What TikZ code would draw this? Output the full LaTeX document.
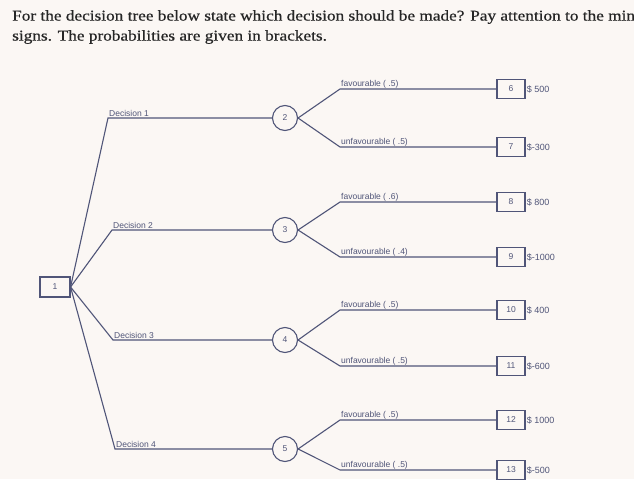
\documentclass[tikz,border=0pt]{standalone}
\usepackage{fontspec}
\setmainfont{Liberation Serif}
\newfontfamily\titlefont[FakeStretch=1.15,FakeBold=0.6]{Liberation Serif}
\newfontfamily\lab{Liberation Sans}
\begin{document}
\begin{tikzpicture}[x=1pt,y=-1pt,
  ln/.style={draw=dg, line width=1.1pt},
  term/.style={draw=dg, line width=1.1pt, minimum width=28pt, minimum height=19pt, inner sep=0pt, font=\lab\fontsize{8.5}{9}\selectfont, text=dg},
  chance/.style={circle, draw=dg, line width=1.1pt, minimum size=25pt, inner sep=0pt, font=\lab\fontsize{8.5}{9}\selectfont, text=dg},
  lbl/.style={anchor=south west, inner sep=1pt, font=\lab\fontsize{8.5}{9}\selectfont, text=dg},
  val/.style={anchor=west, inner sep=1pt, font=\lab\fontsize{9}{9}\selectfont, text=dg}]
\definecolor{dg}{RGB}{80,85,120}
\fill[white!94!brown] (0,0) rectangle (634,479);
\useasboundingbox (0,0) rectangle (634,479);
\node[anchor=north west, align=left, font=\titlefont\fontsize{15}{20}\selectfont, text=black!85, inner sep=0pt] (title) at (12,10)
 {For the decision tree below state which decision should be made? Pay attention to the minus\\signs. The probabilities are given in brackets.};
\node[term, minimum width=30pt, minimum height=20pt] (n1) at (55,287) {1};
\foreach \i/\y/\dx in {1/118/108,2/230/112,3/340/113,4/449/115}{
  \pgfmathtruncatemacro{\c}{\i+1}
  \coordinate (d\i) at (\dx,\y);
  \node[chance] (c\c) at (285,\y) {\c};
  \draw[ln] (n1.east) -- (d\i) -- (c\c);
}
\node[lbl] at (d1) {Decision 1};
\node[lbl] at (d2) {Decision 2};
\node[lbl] at (d3) {Decision 3};
\node[lbl] at (d4) {Decision 4};
\foreach \c/\t/\ya/\yb/\pa/\pb/\ta/\tb/\va/\vb in {
 2/6/89/147/.5/.5/6/7/\$ 500/\$-300,
 3/8/202/257/.6/.4/8/9/\$ 800/\$-1000,
 4/10/310/366/.5/.5/10/11/\$ 400/\$-600,
 5/12/420/470/.5/.5/12/13/\$ 1000/\$-500}{
  \coordinate (fa\c) at (340,\ya);
  \coordinate (fb\c) at (340,\yb);
  \node[term] (t\ta) at (511,\ya) {\ta\hspace{4pt}};
  \node[term] (t\tb) at (511,\yb) {\tb\hspace{4pt}};
  \draw[ln] (c\c.east) -- (fa\c) -- (t\ta.west);
  \draw[ln] (c\c.east) -- (fb\c) -- (t\tb.west);
  \node[lbl] at (fa\c) {favourable ( \pa)};
  \node[lbl] at (fb\c) {unfavourable ( \pb)};
  \node[val] at (t\ta.east) {\va};
  \node[val] at (t\tb.east) {\vb};
}
\end{tikzpicture}
\end{document}
